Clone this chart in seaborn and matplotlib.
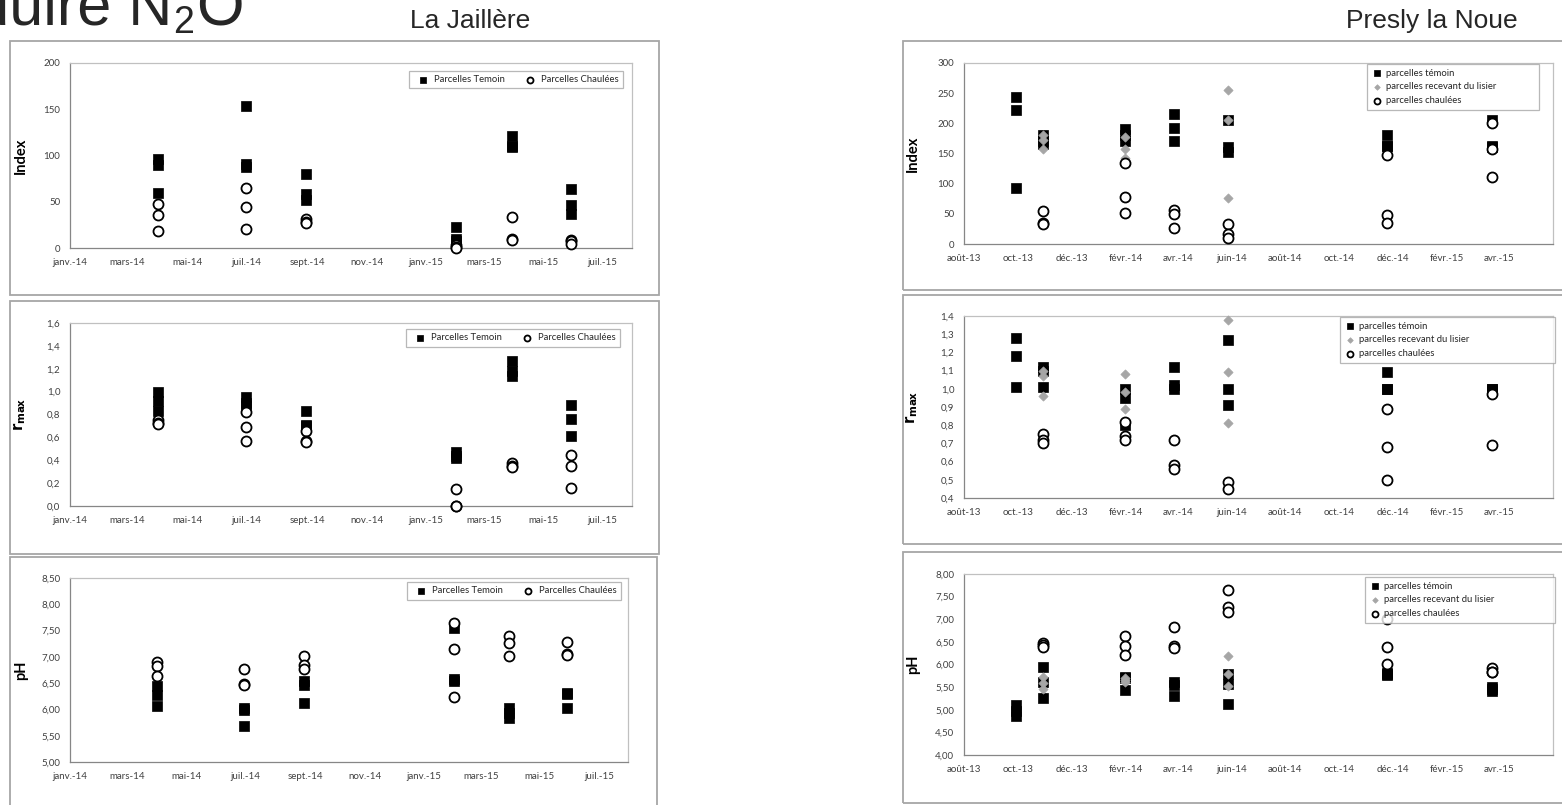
import matplotlib
matplotlib.use("Agg")
import matplotlib.pyplot as plt
from matplotlib.patches import Rectangle
from matplotlib.ticker import FuncFormatter
import pandas as pd
import seaborn as sns

W, H = 1562, 805

# ---------------- La Jaillère ----------------
jail_dates = ["2014-04-01", "2014-06-30", "2014-08-31", "2015-02-01", "2015-03-30", "2015-05-29"]
jail_index_temoin = [[96, 90, 59], [153, 91, 88], [80, 58, 52], [23, 10, 8], [121, 110, 109], [64, 46, 37]]
jail_index_chaulee = [[48, 36, 18], [65, 44, 20], [31, 28, 27], [3, 1, 0], [34, 10, 9], [9, 8, 4]]
jail_rmax_temoin = [[1.00, 0.92, 0.83], [0.95, 0.90, 0.87], [0.83, 0.71, 0.70], [0.47, 0.44, 0.42],
                    [1.27, 1.18, 1.14], [0.88, 0.76, 0.61]]
jail_rmax_chaulee = [[0.75, 0.73, 0.72], [0.82, 0.69, 0.57], [0.66, 0.57, 0.56], [0.15, 0.00, 0.00],
                     [0.38, 0.35, 0.34], [0.45, 0.35, 0.16]]
jail_ph_temoin = [[6.45, 6.27, 6.06], [6.03, 5.98, 5.69], [6.54, 6.47, 6.13], [7.55, 6.57, 6.55],
                  [6.02, 5.93, 5.84], [6.31, 6.29, 6.03]]
jail_ph_chaulee = [[6.90, 6.82, 6.64], [6.76, 6.48, 6.47], [7.01, 6.84, 6.76], [7.65, 7.14, 6.24],
                   [7.40, 7.27, 7.01], [7.28, 7.05, 7.03]]
jail_xticks = ["2014-01-01", "2014-03-01", "2014-05-01", "2014-07-01", "2014-09-01", "2014-11-01",
               "2015-01-01", "2015-03-01", "2015-05-01", "2015-07-01"]
jail_xlabels = ["janv.-14", "mars-14", "mai-14", "juil.-14", "sept.-14", "nov.-14",
                "janv.-15", "mars-15", "mai-15", "juil.-15"]
jail_legend = ["Parcelles Temoin", "Parcelles Chaulées"]

# ---------------- Presly la Noue ----------------
presly_dates = ["2013-09-29", "2013-10-30", "2014-01-31", "2014-03-27", "2014-05-28", "2014-11-24", "2015-03-24"]
presly_index_temoin = [[244, 222, 92], [181, 170, 165], [191, 180, 170], [216, 193, 170],
                       [205, 160, 152], [181, 162, 162], [205, 163, 160]]
presly_index_lisier = [[], [180, 172, 158], [178, 158, 142], [], [256, 205, 77], [], []]
presly_index_chaulee = [[], [54, 35, 33], [134, 78, 51], [56, 50, 26], [33, 16, 10], [147, 48, 35], [200, 157, 111]]
presly_rmax_temoin = [[1.28, 1.18, 1.01], [1.12, 1.10, 1.01], [1.00, 0.95, 0.80], [1.12, 1.02, 1.00],
                      [1.27, 1.00, 0.91], [1.09, 1.00, 1.00], [1.00, 1.00, 0.99]]
presly_rmax_lisier = [[], [1.10, 1.07, 0.96], [1.08, 0.98, 0.89], [], [1.38, 1.09, 0.81], [], []]
presly_rmax_chaulee = [[], [0.75, 0.72, 0.70], [0.82, 0.74, 0.72], [0.72, 0.58, 0.56], [0.49, 0.45],
                       [0.89, 0.68, 0.50], [0.97, 0.69]]
presly_ph_temoin = [[5.10, 4.98, 4.87], [5.94, 5.62, 5.27], [5.72, 5.70, 5.44], [5.62, 5.55, 5.30],
                    [5.78, 5.56, 5.12], [5.82, 5.78, 5.76], [5.50, 5.45, 5.41]]
presly_ph_lisier = [[], [5.72, 5.60, 5.45], [5.70, 5.65, 5.62], [], [6.19, 5.78, 5.53], [], []]
presly_ph_chaulee = [[], [6.47, 6.43, 6.38], [6.62, 6.40, 6.22], [6.83, 6.40, 6.37], [7.65, 7.28, 7.16],
                     [7.00, 6.39, 6.01], [5.93, 5.84, 5.83]]
presly_xticks = ["2013-08-01", "2013-10-01", "2013-12-01", "2014-02-01", "2014-04-01", "2014-06-01",
                 "2014-08-01", "2014-10-01", "2014-12-01", "2015-02-01", "2015-04-01"]
presly_xlabels = ["août-13", "oct.-13", "déc.-13", "févr.-14", "avr.-14", "juin-14",
                  "août-14", "oct.-14", "déc.-14", "févr.-15", "avr.-15"]
presly_legend = ["parcelles témoin", "parcelles recevant du lisier", "parcelles chaulées"]

STYLE = {
    "temoin": dict(marker="s", s=50, color="black", edgecolor="black", linewidth=0.5),
    "lisier": dict(marker="D", s=22, color="#a6a6a6", edgecolor="#a6a6a6", linewidth=0.5),
    "chaulee": dict(marker="o", s=52, color="white", edgecolor="black", linewidth=1.3),
}
GREY = "#a6a6a6"

sns.set_style("white")
plt.rcParams["font.family"] = ["Lato", "DejaVu Sans"]
plt.rcParams["mathtext.fontset"] = "dejavusans"

fig = plt.figure(figsize=(W / 100, H / 100), dpi=100)


def to_frame(dates, groups):
    rows = [(pd.Timestamp(d), v) for d, vals in zip(dates, groups) for v in vals]
    return pd.DataFrame(rows, columns=["date", "value"])


def fig_rect(x0, y0, x1, y1):
    return [x0 / W, 1 - y1 / H, (x1 - x0) / W, (y1 - y0) / H]


def panel(box, axbox, dates, series, labels, ylim, ystep, fmt, xlim, xticks, xlabels,
          ylabel, legbox, ncol):
    x0, y0, x1, y1 = box
    fig.add_artist(Rectangle((x0 / W, 1 - y1 / H), (x1 - x0) / W, (y1 - y0) / H,
                             transform=fig.transFigure, fill=False, edgecolor=GREY, lw=1.3))
    ax = fig.add_axes(fig_rect(*axbox))
    handles = []
    for (kind, groups), lab in zip(series, labels):
        df = to_frame(dates, groups)
        sns.scatterplot(data=df, x="date", y="value", ax=ax, clip_on=False, zorder=3,
                        label=lab, legend=False, **STYLE[kind])
        handles.append(ax.collections[-1])
    ax.set_xlim(pd.Timestamp(xlim[0]), pd.Timestamp(xlim[1]))
    ax.set_ylim(*ylim)
    n = int(round((ylim[1] - ylim[0]) / ystep))
    ax.set_yticks([ylim[0] + i * ystep for i in range(n + 1)])
    ax.yaxis.set_major_formatter(FuncFormatter(fmt))
    ax.set_xticks(pd.to_datetime(xticks))
    ax.set_xticklabels(xlabels)
    ax.set_xlabel("")
    ax.set_ylabel(ylabel, fontsize=10.5, fontweight="bold", color="black")
    ax.yaxis.set_label_coords(-0.075, 0.5)
    ax.tick_params(axis="both", direction="out", length=4, width=0.8, color="#868686",
                   labelsize=7, labelcolor="#404040", pad=3)
    for side in ["left", "bottom"]:
        ax.spines[side].set_color("#868686")
        ax.spines[side].set_linewidth(0.9)
    for side in ["top", "right"]:
        ax.spines[side].set_color("#c0c0c0")
        ax.spines[side].set_linewidth(0.9)
    lx0, ly0, lx1, ly1 = legbox
    if ncol == 2:
        leg = ax.legend(handles, labels, loc="upper right", ncol=2,
                        bbox_to_anchor=(lx1 / W, 1 - ly0 / H), bbox_transform=fig.transFigure,
                        fontsize=6.8, frameon=True, fancybox=False, borderpad=0.45,
                        handletextpad=0.2, handlelength=2.0, columnspacing=1.6,
                        markerscale=0.6, borderaxespad=0)
    else:
        leg = ax.legend(handles, labels, loc="upper left", mode="expand", ncol=1,
                        bbox_to_anchor=(lx0 / W, 1 - ly1 / H, (lx1 - lx0) / W, (ly1 - ly0) / H),
                        bbox_transform=fig.transFigure, fontsize=6.8, frameon=True,
                        fancybox=False, borderpad=0.5, labelspacing=0.5, handletextpad=0.3,
                        handlelength=1.2, markerscale=0.6, borderaxespad=0)
    leg.get_frame().set_edgecolor(GREY)
    leg.get_frame().set_linewidth(0.9)
    return ax


def fmt_int(v, p):
    return f"{v:.0f}"


def fmt_1(v, p):
    return f"{v:.1f}".replace(".", ",")


def fmt_2(v, p):
    return f"{v:.2f}".replace(".", ",")


jx = ("2014-01-01", "2015-07-31")
px = ("2013-08-01", "2015-06-01")
rmax_label = r"$\mathbf{r}_{\mathbf{max}}$"

panel((10, 41, 659, 295), (70, 63, 632, 248), jail_dates,
      [("temoin", jail_index_temoin), ("chaulee", jail_index_chaulee)], jail_legend,
      (0, 200), 50, fmt_int, jx, jail_xticks, jail_xlabels, "Index", (404, 71, 623, 89), 2)
panel((10, 301, 659, 554), (70, 323, 632, 506), jail_dates,
      [("temoin", jail_rmax_temoin), ("chaulee", jail_rmax_chaulee)], jail_legend,
      (0, 1.6), 0.2, fmt_1, jx, jail_xticks, jail_xlabels, rmax_label, (400, 329, 620, 347), 2)
panel((10, 557, 657, 812), (70, 578, 628, 762), jail_dates,
      [("temoin", jail_ph_temoin), ("chaulee", jail_ph_chaulee)], jail_legend,
      (5, 8.5), 0.5, fmt_2, jx, jail_xticks, jail_xlabels, "pH", (395, 582, 621, 600), 2)

panel((903, 41, 1600, 290), (964, 63, 1553, 244), presly_dates,
      [("temoin", presly_index_temoin), ("lisier", presly_index_lisier), ("chaulee", presly_index_chaulee)],
      presly_legend, (0, 300), 50, fmt_int, px, presly_xticks, presly_xlabels, "Index",
      (1367, 64, 1539, 108), 1)
panel((903, 295, 1600, 544), (964, 316, 1553, 498), presly_dates,
      [("temoin", presly_rmax_temoin), ("lisier", presly_rmax_lisier), ("chaulee", presly_rmax_chaulee)],
      presly_legend, (0.4, 1.4), 0.1, fmt_1, px, presly_xticks, presly_xlabels, rmax_label,
      (1340, 317, 1555, 350), 1)
panel((903, 552, 1600, 803), (964, 574, 1553, 755), presly_dates,
      [("temoin", presly_ph_temoin), ("lisier", presly_ph_lisier), ("chaulee", presly_ph_chaulee)],
      presly_legend, (4, 8), 0.5, fmt_2, px, presly_xticks, presly_xlabels, "pH",
      (1365, 577, 1555, 612), 1)

# slide titles
tfont = ["Liberation Sans", "DejaVu Sans"]
fig.text(172 / W, 1 - 25 / H, "Réduire N", ha="right", va="baseline", fontsize=44, family=tfont)
fig.text(173 / W, 1 - 33 / H, "2", ha="left", va="baseline", fontsize=27, family=tfont)
fig.text(196 / W, 1 - 25 / H, "O", ha="left", va="baseline", fontsize=44, family=tfont)
fig.text(470 / W, 1 - 21 / H, "La Jaillère", ha="center", va="center", fontsize=19, family=tfont)
fig.text(1518 / W, 1 - 21 / H, "Presly la Noue", ha="right", va="center", fontsize=19, family=tfont)

fig.savefig("out.png", dpi=100, facecolor="white")
